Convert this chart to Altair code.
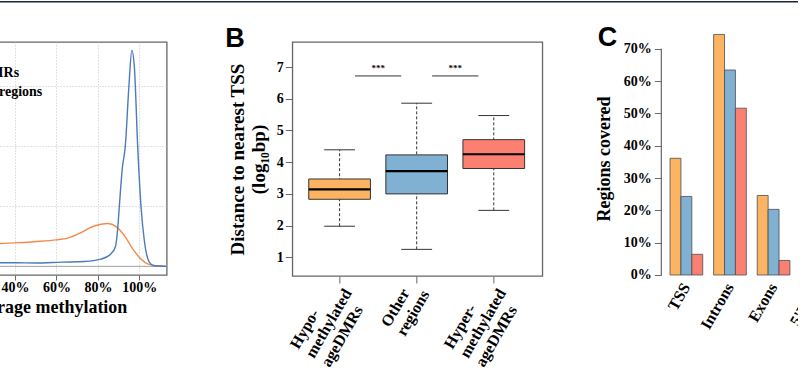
import altair as alt
import pandas as pd

SERIF = "Liberation Serif"
SANS = "Liberation Sans"
GRAY = "#666666"
DARK = "#333333"

# ---------------- Panel A: density of average methylation ----------------
a_series = ["ageDMRs", "Other regions"]
a_colors = ["#f5894c", "#4b7bb8"]
hypo_meth = [0, 5, 10, 20, 30, 33.2, 40, 49.3, 60, 65.4, 71.9, 76.7, 81.5, 84.8,
             88.8, 92.8, 96.8, 100.8, 104, 108.5, 113.2]
hypo_dens = [0.15, 0.24, 0.29, 0.33, 0.36, 0.38, 0.39, 0.41, 0.44, 0.47, 0.56, 0.65,
             0.70, 0.713, 0.66, 0.51, 0.29, 0.12, 0.04, 0.01, 0.0]
other_meth = [0, 10, 20, 33.2, 40, 50, 62.6, 73.5, 81.5, 86.3, 88.4, 89.6, 90.3, 91.8,
              93.2, 95.0, 96.35, 97.6, 99.2, 100.8, 102.4, 104.8, 107, 113.2]
other_dens = [0.04, 0.05, 0.05, 0.06, 0.06, 0.055, 0.07, 0.08, 0.12, 0.21, 0.32, 0.65,
              0.98, 1.64, 1.99, 3.02, 3.59, 3.31, 1.99, 0.99, 0.43, 0.07, 0.01, 0.0]
a_ticks = [20, 40, 60, 80, 100]
a_grid = [1, 2, 3]

df_a = pd.concat([
    pd.DataFrame({"meth": hypo_meth, "dens": hypo_dens, "series": a_series[0]}),
    pd.DataFrame({"meth": other_meth, "dens": other_dens, "series": a_series[1]}),
], ignore_index=True)
one = pd.DataFrame({"z": [0]})

xa_scale = alt.Scale(domain=[-2, 113.2], nice=False, zero=False)
ya_scale = alt.Scale(domain=[-0.144, 3.73], nice=False, zero=False)
xa_axis = alt.Axis(values=a_ticks, labelExpr="datum.value + '%'", title="Average methylation",
                   labelFont=SERIF, labelFontWeight="bold", labelFontSize=14, labelColor="black",
                   titleFont=SERIF, titleFontWeight="bold", titleFontSize=18, titleColor="black",
                   domain=False, tickColor=GRAY, tickSize=5, labelPadding=1, titlePadding=4,
                   grid=True, gridColor="#c4c4c4", gridDash=[1, 2], labelFlush=False,
                   labelOverlap=False)
ya_axis = alt.Axis(values=a_grid, labels=False, ticks=False, domain=False, title=None,
                   grid=True, gridColor="#c4c4c4", gridDash=[1, 2])

zero_a = alt.Chart(one).mark_rule(color="#a0a0a0", strokeWidth=1).encode(
    y=alt.Y("z:Q", scale=ya_scale, axis=ya_axis))
lines_a = alt.Chart(df_a).mark_line(strokeWidth=1.4, interpolate="monotone").encode(
    x=alt.X("meth:Q", scale=xa_scale, axis=xa_axis),
    y=alt.Y("dens:Q", scale=ya_scale, axis=ya_axis),
    color=alt.Color("series:N", scale=alt.Scale(domain=a_series, range=a_colors),
                    legend=alt.Legend(orient="none", legendX=10, legendY=23, title=None,
                                      symbolType="stroke", symbolStrokeWidth=1.5, symbolSize=200,
                                      labelFont=SERIF, labelFontWeight="bold", labelFontSize=14,
                                      labelColor="black", rowPadding=3.5, labelOffset=6)),
)
topline = alt.Chart(one).mark_rule(color="#1e2535", strokeWidth=1.5).encode(
    x=alt.value(0), x2=alt.value(1100), y=alt.value(-40.25))

chart_a = alt.layer(zero_a, lines_a, topline).properties(
    width=238.66, height=233,
    view=alt.ViewBackground(stroke=GRAY, strokeWidth=1.3))

# ---------------- Panel B: boxplots of distance to nearest TSS ----------------
b_names = ["Hypo-\nmethylated\nageDMRs", "Other\nregions", "Hyper-\nmethylated\nageDMRs"]
b_colors = ["#fdb462", "#80b1d3", "#fb8072"]
b_low = [1.98, 1.25, 2.48]
b_q1 = [2.83, 3.00, 3.80]
b_med = [3.14, 3.72, 4.25]
b_q3 = [3.47, 4.23, 4.71]
b_high = [4.39, 5.86, 5.47]
b_ticks = [1, 2, 3, 4, 5, 6, 7]

sig_from = [1, 2]
sig_to = [2, 3]
sig_level = [6.72, 6.72]
sig_text = ["***", "***"]

df_b = pd.DataFrame({"name": b_names, "low": b_low, "q1": b_q1, "med": b_med,
                     "q3": b_q3, "high": b_high})
df_b["pos"] = range(1, len(b_names) + 1)
df_sig = pd.DataFrame({"a": sig_from, "b": sig_to, "level": sig_level, "txt": sig_text})

labels_js = "[" + ",".join("[" + ",".join("'" + s + "'" for s in n.split("\n")) + "]"
                           for n in b_names) + "]"
xb_scale = alt.Scale(domain=[0.387, 3.63], nice=False, zero=False)
yb_scale = alt.Scale(domain=[0.41, 7.79], nice=False, zero=False)
# lines are left-justified inside each rotated label block; the two-line label is shorter
xb_axis = alt.Axis(values=list(df_b["pos"]), labelExpr=labels_js + "[datum.value - 1]",
                   labelAngle=300, labelAlign="left", labelBaseline="middle",
                   labelFont=SERIF, labelFontWeight="bold", labelFontSize=16,
                   labelLineHeight=18, labelColor="black", tickSize=7, tickColor=GRAY,
                   domain=False, grid=False, title=None, labelOverlap=False,
                   labelOffset={"condition": {"test": "datum.value == 2", "value": -32},
                                "value": -46},
                   labelPadding={"condition": {"test": "datum.value == 2", "value": 42},
                                 "value": 64})
yb_axis = alt.Axis(values=b_ticks, tickSize=7, tickColor=GRAY, labelPadding=2, domain=False,
                   grid=False, labelFont=SERIF, labelFontWeight="bold", labelFontSize=14,
                   labelColor="black",
                   title=["Distance to nearest TSS", "(log\u2081\u2080bp)"],
                   titleFont=SERIF, titleFontWeight="bold", titleFontSize=19,
                   titleLineHeight=21, titleColor="black", titlePadding=8)

base_b = alt.Chart(df_b).transform_calculate(
    left="datum.pos - 0.4", right="datum.pos + 0.4",
    capl="datum.pos - 0.2", capr="datum.pos + 0.2")


def xb(f):
    return alt.X(f, scale=xb_scale, axis=xb_axis)


def yb(f):
    return alt.Y(f, scale=yb_scale, axis=yb_axis)


whisk = base_b.mark_rule(color=DARK, strokeDash=[3, 2]).encode(
    x=xb("pos:Q"), y=yb("low:Q"), y2="high:Q")
cap_lo = base_b.mark_rule(color=DARK).encode(x=xb("capl:Q"), x2="capr:Q", y=yb("low:Q"))
cap_hi = base_b.mark_rule(color=DARK).encode(x=xb("capl:Q"), x2="capr:Q", y=yb("high:Q"))
box = base_b.mark_bar(stroke=DARK, strokeWidth=1).encode(
    x=xb("left:Q"), x2="right:Q", y=yb("q1:Q"), y2="q3:Q",
    color=alt.Color("name:N", scale=alt.Scale(domain=b_names, range=b_colors), legend=None))
med = base_b.mark_rule(color="black", strokeWidth=2.2).encode(
    x=xb("left:Q"), x2="right:Q", y=yb("med:Q"))
sig_base = alt.Chart(df_sig).transform_calculate(
    xa="datum.a + 0.2", xb="datum.b - 0.2", mid="(datum.a + datum.b) / 2")
sig_rule = sig_base.mark_rule(color=DARK).encode(x=xb("xa:Q"), x2="xb:Q", y=yb("level:Q"))
sig_txt = sig_base.mark_text(font=SERIF, fontWeight="bold", fontSize=9, baseline="bottom",
                             dy=-3).encode(x=xb("mid:Q"), y=yb("level:Q"), text="txt:N")

chart_b = alt.layer(whisk, cap_lo, cap_hi, box, med, sig_rule, sig_txt).properties(
    width=250, height=234,
    view=alt.ViewBackground(stroke=GRAY, strokeWidth=1.3),
    title=alt.TitleParams("B", anchor="start", frame="group", font=SANS, fontSize=27,
                          fontWeight="bold", color="black", offset=0, baseline="alphabetic",
                          dx=-67, dy=31.5))

# ---------------- Panel C: regions covered ----------------
c_regions = ["TSS", "Introns", "Exons", "5'UTR"]
c_groups = ["Hypomethylated ageDMRs", "Other regions", "Hypermethylated ageDMRs"]
c_hypo = [36.1, 74.4, 24.6, 4.0]
c_other = [24.3, 63.4, 20.3, 3.5]
c_hyper = [6.4, 51.6, 4.5, 1.0]
c_ticks = [0, 10, 20, 30, 40, 50, 60, 70]

df_c = pd.concat([
    pd.DataFrame({"region": c_regions, "group": c_groups[0], "value": c_hypo}),
    pd.DataFrame({"region": c_regions, "group": c_groups[1], "value": c_other}),
    pd.DataFrame({"region": c_regions, "group": c_groups[2], "value": c_hyper}),
], ignore_index=True)
df_c_axis = pd.DataFrame({"lo": [c_ticks[0]], "hi": [c_ticks[-1]]})

yc_scale = alt.Scale(domain=[0, 72.07], nice=False)
yc_axis = alt.Axis(values=c_ticks, labelExpr="datum.value + '%'", offset=6.3, domain=False,
                   tickSize=7, tickColor=GRAY, labelPadding=3, grid=False,
                   labelFont=SERIF, labelFontWeight="bold", labelFontSize=14, labelColor="black",
                   title="Regions covered", titleFont=SERIF, titleFontWeight="bold",
                   titleFontSize=18, titleColor="black", titlePadding=10)

bars_c = alt.Chart(df_c).mark_bar(stroke="#4d4d4d", strokeWidth=0.8).encode(
    x=alt.X("region:N", sort=c_regions,
            scale=alt.Scale(paddingInner=0.25, paddingOuter=0.055),
            axis=alt.Axis(labelAngle=300, labelAlign="right", labelBaseline="middle",
                          labelFont=SERIF, labelFontWeight="bold", labelFontSize=16,
                          labelColor="black", ticks=False, domain=False, labelPadding=9,
                          title=None, grid=False)),
    xOffset=alt.XOffset("group:N", sort=c_groups,
                        scale=alt.Scale(paddingInner=0, paddingOuter=0)),
    y=alt.Y("value:Q", scale=yc_scale, axis=yc_axis),
    color=alt.Color("group:N", scale=alt.Scale(domain=c_groups, range=b_colors), legend=None),
)
axis_line_c = alt.Chart(df_c_axis).mark_rule(color=GRAY, strokeWidth=1.2).encode(
    x=alt.value(-6.3), y=alt.Y("lo:Q", scale=yc_scale, axis=yc_axis), y2="hi:Q")

chart_c = alt.layer(bars_c, axis_line_c).properties(
    width=168.3, height=233,
    view=alt.ViewBackground(stroke="transparent"),
    title=alt.TitleParams("C", anchor="start", frame="group", font=SANS, fontSize=27,
                          fontWeight="bold", color="black", offset=0, baseline="alphabetic",
                          dx=-70, dy=38.5))

chart = alt.hconcat(chart_a, chart_b, chart_c, spacing=125.3, bounds="flush").resolve_scale(
    color="independent"
).properties(
    padding={"left": -73.96, "right": -232, "top": 0, "bottom": 0},
    background="white",
)

chart.save("out.html", embed_options={"renderer": "svg", "actions": False})
